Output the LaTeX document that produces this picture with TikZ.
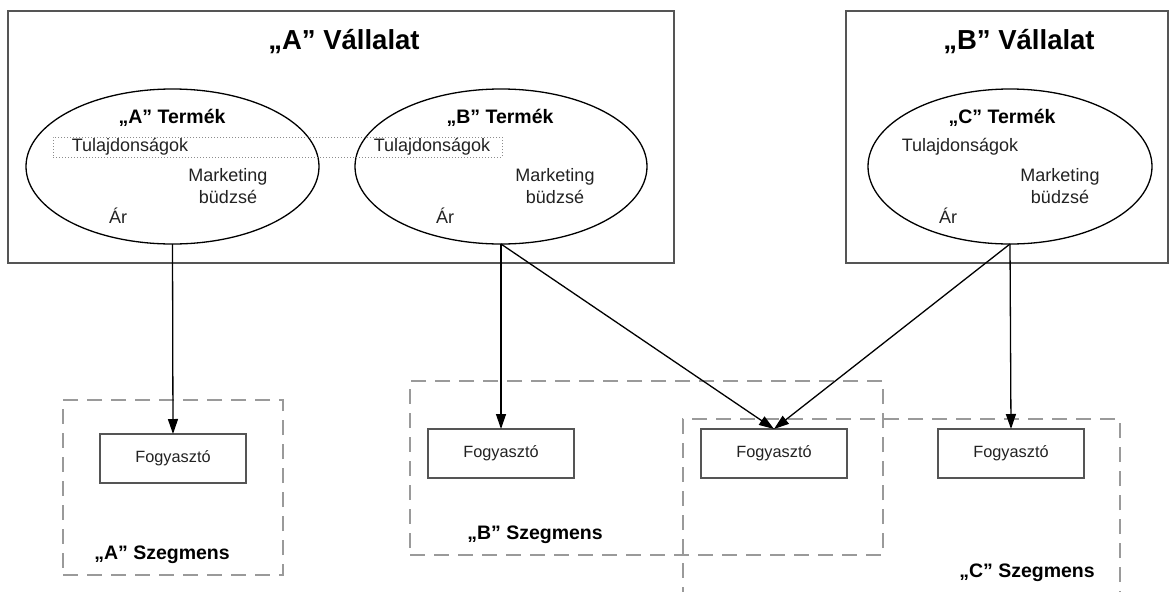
\documentclass[tikz,border=0pt]{standalone}
\usepackage{fontspec}
\setmainfont{Liberation Sans}
\usetikzlibrary{shapes.geometric,arrows.meta}
\definecolor{boxgray}{HTML}{555555}
\definecolor{dashgray}{HTML}{9A9A9A}
\definecolor{dotgray}{HTML}{8C8C8C}
\definecolor{textgray}{HTML}{222222}
\tikzset{
  company/.style={draw=boxgray,line width=1.9pt,inner sep=0pt,outer sep=0pt},
  product/.style={draw=black,ellipse,line width=1.3pt,inner sep=0pt,outer sep=0pt},
  consumer/.style={draw=boxgray,line width=1.7pt,inner sep=0pt,outer sep=0pt,
    minimum width=146pt,minimum height=49pt,font=\fontsize{16.3}{18}\selectfont,text=textgray},
  segment/.style={draw=dashgray,line width=2.6pt,dash pattern=on 15pt off 9pt},
  dotbox/.style={draw=dotgray,line width=1pt,dotted},
  title/.style={font=\fontsize{27.5}{32}\selectfont\bfseries,inner sep=0pt},
  prodtitle/.style={font=\fontsize{19.5}{23}\selectfont\bfseries,inner sep=0pt},
  segtitle/.style={font=\fontsize{19.5}{23}\selectfont\bfseries,inner sep=0pt},
  attr/.style={font=\fontsize{18}{22}\selectfont,inner sep=0pt,align=center,text=textgray},
  link/.style={draw=black,line width=1.3pt,-{Triangle[length=15pt,width=10pt]}}
}
\begin{document}
\begin{tikzpicture}[x=1pt,y=-1pt]
\useasboundingbox (0,0) rectangle (1176,592);
\fill[white] (0,0) rectangle (1176,592);
\clip (0,0) rectangle (1176,592);

% companies
\node[company,minimum width=666pt,minimum height=252pt] (compA) at (341,137) {};
\node[company,minimum width=322pt,minimum height=252pt] (compB) at (1007,137) {};
\node[title] (titleA) at (344,42) {„A” Vállalat};
\node[title] (titleB) at (1019,42) {„B” Vállalat};

% products
\node[product,minimum width=293pt,minimum height=155pt] (eA) at (172.5,166.5) {};
\node[product,minimum width=292pt,minimum height=155pt] (eB) at (501,166.5) {};
\node[product,minimum width=284pt,minimum height=155pt] (eC) at (1010,166.5) {};

\node[dotbox,minimum width=449pt,minimum height=20pt,inner sep=0pt] (dots) at (277.5,147) {};

\node[prodtitle] (tA) at (172,118) {„A” Termék};
\node[attr] (tuA) at (130,147) {Tulajdonságok};
\node[attr] (mA) at (228,186) {Marketing\\büdzsé};
\node[attr] (arA) at (118,216) {Ár};

\node[prodtitle] (tB) at (500,118) {„B” Termék};
\node[attr] (tuB) at (432,147) {Tulajdonságok};
\node[attr] (mB) at (555,186) {Marketing\\büdzsé};
\node[attr] (arB) at (445,216) {Ár};

\node[prodtitle] (tC) at (1002,118) {„C” Termék};
\node[attr] (tuC) at (960,147) {Tulajdonságok};
\node[attr] (mC) at (1060,186) {Marketing\\büdzsé};
\node[attr] (arC) at (948,216) {Ár};

% segments
\node[segment,minimum width=220pt,minimum height=175pt,inner sep=0pt] (segA) at (173,487.5) {};
\node[segment,minimum width=473pt,minimum height=174pt,inner sep=0pt] (segB) at (646.5,468) {};
\node[segment,minimum width=437pt,minimum height=230pt,inner sep=0pt] (segC) at (901.5,534) {};

\node[segtitle] (sA) at (162,555) {„A” Szegmens};
\node[segtitle] (sB) at (535,535) {„B” Szegmens};
\node[segtitle] (sC) at (1027,573) {„C” Szegmens};

% consumers
\node[consumer] (fA) at (173,458.5) {Fogyasztó};
\node[consumer] (fB1) at (501,453.5) {Fogyasztó};
\node[consumer] (fB2) at (774,453.5) {Fogyasztó};
\node[consumer] (fC) at (1011,453.5) {Fogyasztó};

% connectors
\draw[link] (eA.south) -- (fA.north);
\draw[link] (eB.south) -- (fB1.north);
\draw[link] (eB.south) -- (fB2.north);
\draw[link] (eC.south) -- (fB2.north);
\draw[link] (eC.south) -- (fC.north);
\end{tikzpicture}
\end{document}
